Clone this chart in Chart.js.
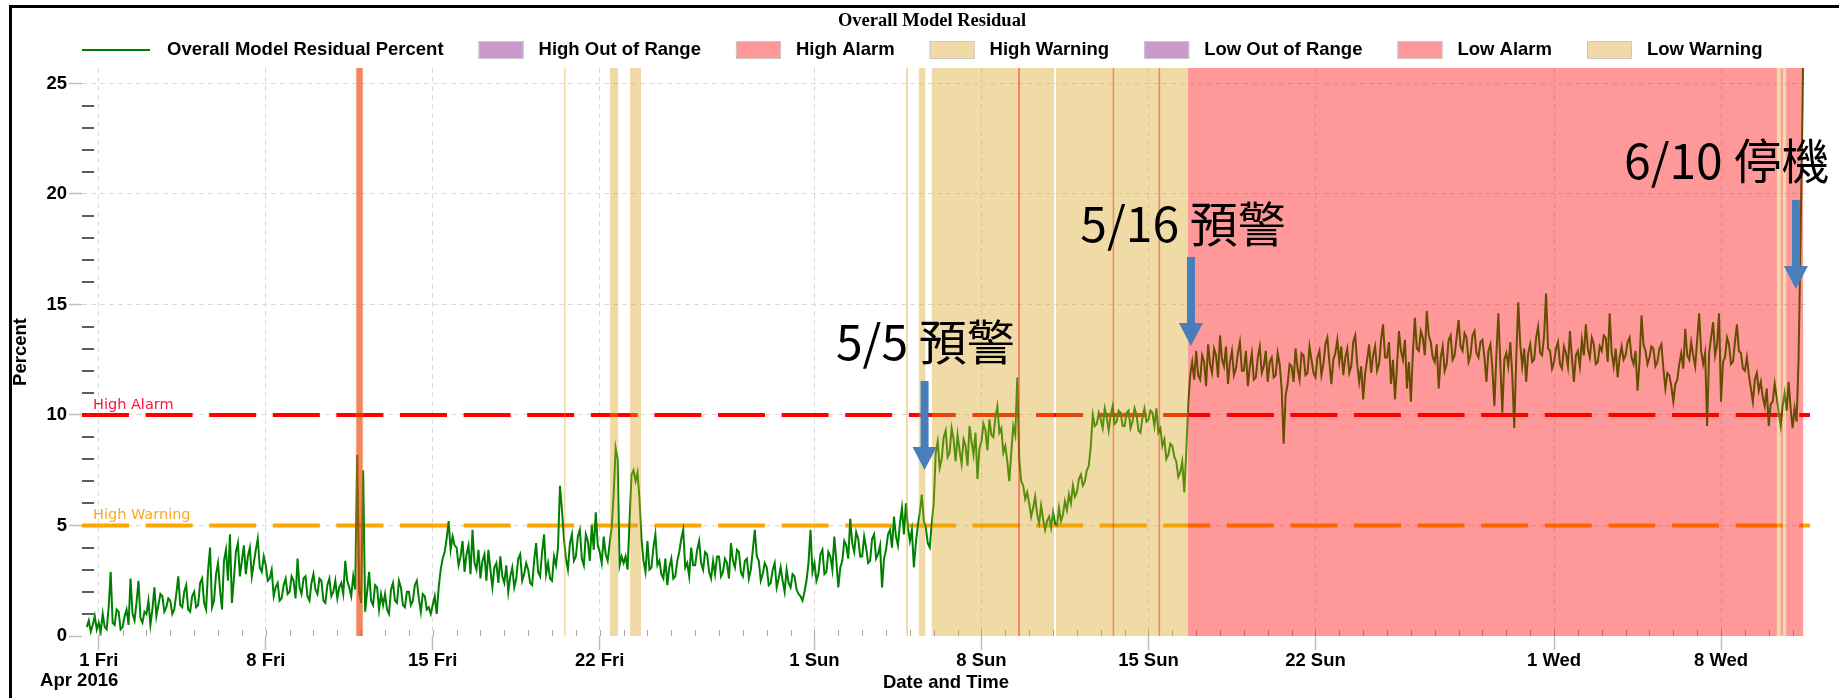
<!DOCTYPE html>
<html>
<head>
<meta charset="utf-8">
<title>Overall Model Residual</title>
<script src="https://cdn.jsdelivr.net/npm/chart.js@4.4.1/dist/chart.umd.min.js"></script>
<style>
  html, body { margin: 0; padding: 0; background: #ffffff; }
  #wrap { position: relative; width: 1839px; height: 698px; }
  canvas { display: block; }
</style>
</head>
<body>
<div id="wrap"><canvas id="chart" width="1839" height="698"></canvas></div>
<script>
// ---- data ---------------------------------------------------------------
// Overall model residual (%), one reading every 2 hours from 2016-03-31 12:00
const sampleStart = '2016-03-31T12:00';
const sampleHours = 2;
const residualPercent = [
  /* Mar 31 */ 0.4, 0.7, 0.2, 0.5, 0.9, 0.3,
  /* Apr 1  */ 0.6, 0.2, 1.0, 0.4, 0.3, 1.3, 2.9, 0.6, 0.5, 1.2, 1.1, 0.3,
  /* Apr 2  */ 0.4, 0.9, 1.2, 0.5, 2.6, 1.0, 0.7, 1.5, 2.5, 0.8, 0.6, 1.1,
  /* Apr 3  */ 1.0, 1.6, 0.5, 1.2, 2.2, 0.9, 1.4, 1.9, 1.8, 1.1, 1.3, 1.7,
  /* Apr 4  */ 1.6, 1.0, 1.2, 1.9, 2.7, 1.4, 1.3, 2.0, 2.3, 1.2, 1.1, 1.8,
  /* Apr 5  */ 2.0, 1.3, 1.4, 2.4, 2.6, 1.5, 1.2, 3.0, 4.0, 1.3, 1.6, 2.8,
  /* Apr 6  */ 3.3, 2.1, 1.2, 3.4, 3.9, 2.5, 4.6, 1.5, 2.6, 3.8, 4.2, 2.7,
  /* Apr 7  */ 3.4, 4.1, 2.8, 3.6, 4.0, 2.7, 3.3, 3.9, 4.4, 3.1, 2.9, 3.6,
  /* Apr 8  */ 3.2, 2.5, 2.6, 3.0, 1.8, 2.2, 2.4, 1.6, 1.7, 2.3, 2.6, 1.9,
  /* Apr 9  */ 2.0, 2.7, 2.5, 1.7, 3.5, 2.2, 1.9, 2.6, 2.7, 1.8, 1.6, 2.4,
  /* Apr 10 */ 2.8, 2.1, 1.9, 2.6, 2.5, 1.6, 1.5, 2.3, 2.6, 1.8, 2.0, 2.5,
  /* Apr 11 */ 1.7, 2.2, 2.4, 1.9, 3.4, 2.5, 2.2, 1.8, 2.7, 2.1, 8.2, 2.0,
  /* Apr 12 */ 1.5, 7.5, 1.1, 2.0, 2.9, 1.6, 1.4, 2.3, 2.2, 1.2, 1.9, 1.4,
  /* Apr 13 */ 1.9, 1.2, 1.0, 2.1, 2.4, 1.6, 1.5, 2.5, 2.2, 1.4, 1.3, 2.0,
  /* Apr 14 */ 2.0, 1.4, 1.6, 2.3, 2.5, 1.7, 1.1, 1.9, 1.8, 1.2, 1.3, 1.0,
  /* Apr 15 */ 1.4, 1.8, 1.0, 2.2, 3.0, 3.5, 3.8, 4.4, 5.2, 3.9, 4.5, 4.1,
  /* Apr 16 */ 4.0, 3.2, 3.6, 4.3, 2.9, 3.7, 4.1, 2.8, 4.8, 3.3, 3.0, 3.9,
  /* Apr 17 */ 2.6, 3.4, 3.7, 2.5, 3.9, 3.0, 2.2, 3.1, 3.3, 2.4, 3.6, 2.7,
  /* Apr 18 */ 2.4, 3.2, 2.0, 2.7, 3.1, 2.2, 2.6, 3.5, 3.7, 2.5, 2.8, 3.3,
  /* Apr 19 */ 3.0, 2.4, 2.3, 3.4, 4.2, 2.9, 2.7, 3.8, 4.6, 2.8, 3.3, 2.6,
  /* Apr 20 */ 2.5, 3.6, 3.2, 4.0, 6.8, 5.7, 4.4, 3.5, 3.0, 4.2, 4.6, 3.4,
  /* Apr 21 */ 3.6, 4.5, 4.8, 3.5, 3.2, 4.6, 4.3, 3.4, 5.0, 3.9, 5.6, 4.1,
  /* Apr 22 */ 3.8, 3.3, 4.5, 3.7, 3.4, 4.2, 4.9, 6.4, 8.5, 8.0, 3.2, 3.6,
  /* Apr 23 */ 3.3, 3.6, 3.0, 5.2, 7.3, 7.5, 7.0, 7.4, 6.2, 4.4, 3.4, 2.9,
  /* Apr 24 */ 4.3, 3.0, 3.1, 4.0, 4.6, 3.2, 3.4, 2.8, 2.6, 3.5, 2.3, 3.1,
  /* Apr 25 */ 3.5, 2.6, 2.7, 3.4, 3.8, 4.4, 4.8, 3.1, 3.3, 2.7, 4.0, 3.2,
  /* Apr 26 */ 3.2, 3.9, 4.3, 3.3, 3.0, 3.8, 3.7, 2.9, 2.6, 3.4, 2.8, 3.6,
  /* Apr 27 */ 3.6, 2.7, 2.9, 3.5, 3.3, 2.6, 4.2, 3.4, 3.1, 3.9, 3.8, 2.9,
  /* Apr 28 */ 2.7, 3.4, 3.5, 2.6, 3.0, 3.9, 4.8, 3.6, 3.4, 2.5, 2.8, 3.3,
  /* Apr 29 */ 3.1, 2.3, 2.4, 3.0, 3.3, 2.2, 2.6, 3.1, 2.5, 2.0, 3.0, 2.4,
  /* Apr 30 */ 2.2, 2.8, 2.7, 2.1, 1.9, 1.8, 1.6, 2.0, 2.5, 3.3, 4.8, 2.9,
  /* May 1  */ 3.3, 2.5, 2.8, 3.7, 3.9, 2.8, 2.9, 3.8, 3.6, 3.0, 4.5, 3.4,
  /* May 2  */ 2.2, 3.1, 3.4, 4.3, 4.1, 3.5, 5.3, 4.2, 3.8, 4.7, 4.4, 3.6,
  /* May 3  */ 3.6, 4.5, 4.0, 3.3, 3.4, 4.4, 4.6, 3.5, 3.7, 4.1, 2.2, 3.5,
  /* May 4  */ 3.9, 4.6, 4.8, 4.0, 5.4, 4.5, 4.1, 5.1, 5.8, 4.6, 6.0, 4.9,
  /* May 5  */ 4.3, 4.8, 3.1, 4.2, 5.0, 5.6, 6.4, 5.2, 4.9, 4.2, 4.0, 5.1,
  /* May 6  */ 6.0, 8.3, 8.8, 7.6, 8.0, 9.0, 9.3, 8.1, 8.3, 9.4, 8.9, 7.9,
  /* May 7  */ 9.1, 8.4, 7.8, 8.9, 8.6, 7.7, 9.5, 8.8, 8.2, 9.2, 7.1, 8.5,
  /* May 8  */ 8.8, 9.6, 9.3, 8.4, 9.8, 9.1, 9.0, 9.9, 10.4, 9.2, 9.4, 8.3,
  /* May 9  */ 8.6, 7.9, 7.0, 8.3, 9.5, 9.1, 11.7, 8.0, 7.0, 6.8, 6.2, 6.5,
  /* May 10 */ 6.0, 5.4, 5.8, 6.3, 5.5, 5.1, 5.9, 5.3, 4.8, 5.2, 5.4, 4.9,
  /* May 11 */ 5.6, 5.1, 5.0, 5.8, 5.2, 5.5, 6.1, 5.7, 6.4, 6.0, 6.8, 6.3,
  /* May 12 */ 6.5, 7.1, 7.3, 6.8, 7.0, 7.5, 7.7, 8.6, 10.0, 9.5, 9.6, 10.1,
  /* May 13 */ 9.8, 9.4, 10.3, 9.9, 9.3, 10.0, 10.4, 9.6, 9.7, 10.2, 10.1, 9.5,
  /* May 14 */ 9.5, 10.1, 10.2, 9.4, 9.7, 10.3, 10.0, 9.3, 9.2, 9.9, 10.3, 9.7,
  /* May 15 */ 9.8, 10.2, 10.1, 9.5, 10.3, 9.2, 9.4, 8.6, 8.9, 8.0, 8.2, 8.7,
  /* May 16 */ 8.6, 8.1, 7.9, 7.2, 7.4, 7.9, 6.5, 8.3, 10.5, 11.8, 12.4, 11.6,
  /* May 17 */ 12.9, 11.8, 11.6, 12.7, 12.4, 11.3, 13.2, 12.3, 11.9, 13.0, 12.7, 11.7,
  /* May 18 */ 13.6, 12.5, 12.2, 13.1, 11.4, 12.4, 12.9, 11.8, 12.1, 12.8, 13.3, 12.0,
  /* May 19 */ 12.0, 12.9, 11.3, 12.2, 12.8, 11.6, 11.7, 12.6, 13.1, 11.9, 12.2, 12.9,
  /* May 20 */ 11.5, 12.4, 12.6, 11.7, 11.8, 12.8, 12.3, 11.2, 8.7, 10.9, 11.4, 12.3,
  /* May 21 */ 12.2, 11.5, 13.0, 12.1, 11.6, 12.8, 12.7, 11.8, 11.9, 13.1, 12.5, 11.9,
  /* May 22 */ 11.7, 12.6, 12.9, 11.8, 12.3, 13.2, 13.5, 12.4, 11.4, 12.5, 12.8, 13.4,
  /* May 23 */ 12.4, 13.1, 11.8, 12.6, 13.0, 11.9, 12.2, 13.3, 13.6, 12.3, 11.5, 12.2,
  /* May 24 */ 10.7, 11.9, 12.5, 13.2, 11.9, 12.7, 13.1, 12.0, 12.3, 13.4, 14.1, 12.6,
  /* May 25 */ 12.6, 13.3, 11.4, 12.5, 10.7, 12.2, 13.8, 12.9, 12.5, 13.4, 11.2, 12.4,
  /* May 26 */ 10.6, 12.8, 14.4, 13.0, 12.9, 13.8, 13.5, 12.7, 14.7, 13.6, 13.3, 12.6,
  /* May 27 */ 12.4, 13.2, 11.2, 12.6, 13.1, 12.0, 12.3, 13.4, 13.6, 12.5, 12.7, 13.5,
  /* May 28 */ 14.3, 13.1, 12.9, 13.7, 13.5, 12.4, 12.7, 13.6, 13.8, 12.8, 12.6, 13.3,
  /* May 29 */ 13.4, 12.6, 11.5, 12.9, 13.2, 12.1, 10.4, 12.7, 14.6, 12.3, 10.1, 12.5,
  /* May 30 */ 12.8, 12.2, 13.3, 11.8, 9.4, 12.6, 15.1, 13.2, 12.2, 13.0, 11.5, 12.8,
  /* May 31 */ 13.2, 12.4, 12.5, 13.5, 14.0, 12.8, 12.7, 13.6, 15.5, 13.0, 12.9, 12.1,
  /* Jun 1  */ 12.4, 13.0, 13.3, 12.3, 12.1, 13.1, 12.8, 12.2, 13.8, 12.6, 11.5, 12.7,
  /* Jun 2  */ 12.9, 12.2, 13.4, 12.7, 14.1, 13.0, 12.6, 13.5, 13.2, 12.3, 12.4, 13.1,
  /* Jun 3  */ 12.9, 13.6, 13.5, 12.4, 14.6, 12.8, 12.2, 13.0, 11.7, 12.6, 13.1, 12.5,
  /* Jun 4  */ 12.7, 13.3, 13.5, 12.6, 12.3, 12.9, 11.1, 12.4, 14.5, 13.2, 12.9, 12.3,
  /* Jun 5  */ 12.6, 13.1, 13.0, 12.2, 12.4, 13.0, 13.2, 12.1, 11.2, 11.9, 11.8, 11.3,
  /* Jun 6  */ 10.6, 11.4, 11.6, 12.3, 12.8, 12.1, 13.9, 12.7, 12.5, 13.3, 12.7, 12.2,
  /* Jun 7  */ 13.4, 14.6, 12.9, 12.3, 12.8, 9.5, 12.8, 13.5, 14.2, 12.7, 13.2, 14.6,
  /* Jun 8  */ 10.6, 12.4, 12.6, 13.5, 13.2, 12.3, 12.4, 13.3, 14.1, 12.9, 12.8, 12.1,
  /* Jun 9  */ 12.0, 12.6, 11.8, 11.2, 10.6, 11.6, 11.9, 11.1, 11.5, 10.8, 10.4, 11.2,
  /* Jun 10 */ 9.5, 10.5, 10.6, 11.4, 10.8, 10.1, 9.5, 10.4, 11.0, 10.2, 11.5, 10.3,
  /* Jun 11 */ 9.4, 10.3, 9.7, 12.5, 18.0, 24.0, 32.0
];

// limits
const highAlarmLimit = 10;
const highWarningLimit = 5;

// time axis
const axisStart = '2016-03-31T07:10';
const axisEnd = '2016-06-11T17:30';
const dayTicks = ['2016-04-01', '2016-04-08', '2016-04-15', '2016-04-22', '2016-05-01',
                  '2016-05-08', '2016-05-15', '2016-05-22', '2016-06-01', '2016-06-08'];
const dayTickLabels = ['1 Fri', '8 Fri', '15 Fri', '22 Fri', '1 Sun',
                       '8 Sun', '15 Sun', '22 Sun', '1 Wed', '8 Wed'];
const periodLabel = 'Apr 2016';
const percentTicks = [0, 5, 10, 15, 20, 25];

// state periods [from, to]
const warningPeriods = [
  ['2016-04-11T18:30', '2016-04-12T02:10'],
  ['2016-04-20T12:05', '2016-04-20T13:35'],
  ['2016-04-22T10:20', '2016-04-22T18:30'],
  ['2016-04-23T06:30', '2016-04-23T17:30'],
  ['2016-05-04T20:10', '2016-05-04T22:05'],
  ['2016-05-05T08:55', '2016-05-05T15:35'],
  ['2016-05-05T22:05', '2016-05-11T01:00'],
  ['2016-05-11T03:00', '2016-05-16T15:50'],
  ['2016-06-10T08:10', '2016-06-10T12:00'],
  ['2016-06-10T14:10', '2016-06-10T17:30']
];
const alarmPeriods = [
  ['2016-04-11T19:20', '2016-04-12T01:20'],
  ['2016-05-09T12:50', '2016-05-09T14:50'],
  ['2016-05-13T12:00', '2016-05-13T13:30'],
  ['2016-05-15T10:10', '2016-05-15T11:45'],
  ['2016-05-16T15:50', '2016-06-10T08:10'],
  ['2016-06-10T12:00', '2016-06-10T14:10'],
  ['2016-06-10T17:30', '2016-06-11T10:35']
];

// event callouts: arrow at a time from tail value down to tip value, caption above
const eventLabels = ['5/5 預警', '5/16 預警', '6/10 停機'];
const eventTimes = ['2016-05-05T14:45', '2016-05-16T18:45', '2016-06-11T03:20'];
const eventArrowTail = [11.54, 17.15, 19.73];
const eventArrowTip = [7.51, 13.12, 15.70];
const eventCaptionTimes = ['2016-05-05T15:35', '2016-05-16T10:50', '2016-06-08T05:45'];
const eventCaptionValues = [13.32, 18.67, 21.52];

// ---- styling --------------------------------------------------------------
const GREEN = '#008000';
const OUT_OF_RANGE = 'rgba(128, 0, 128, 0.4)';
const ALARM = 'rgba(255, 0, 0, 0.4)';
const WARNING = 'rgba(218, 165, 32, 0.4)';
const ARROW = '#4a7ebb';
const SANS = '"Liberation Sans", Arial, sans-serif';
const TICK_FONT = { family: SANS, weight: 'bold', size: 18.5 };

const legendEntries = [
  { label: 'Overall Model Residual Percent', kind: 'line', color: GREEN },
  { label: 'High Out of Range', kind: 'box', color: OUT_OF_RANGE },
  { label: 'High Alarm', kind: 'box', color: ALARM },
  { label: 'High Warning', kind: 'box', color: WARNING },
  { label: 'Low Out of Range', kind: 'box', color: OUT_OF_RANGE },
  { label: 'Low Alarm', kind: 'box', color: ALARM },
  { label: 'Low Warning', kind: 'box', color: WARNING }
];

const HOUR = 3600e3;
const DAY = 24 * HOUR;
const T = s => Date.parse((s.length === 10 ? s + 'T00:00' : s) + 'Z');

const residualPoints = residualPercent.map((v, i) => ({ x: T(sampleStart) + i * sampleHours * HOUR, y: v }));
const limitLine = v => [{ x: T(axisStart), y: v }, { x: T(axisEnd), y: v }];

// ---- drawing helpers ------------------------------------------------------
function drawArrow(ctx, x, yTail, yTip) {
  const shaft = 8, head = 24, headLen = 23;
  const yBase = yTip - headLen;
  ctx.fillStyle = ARROW;
  ctx.fillRect(x - shaft / 2, yTail, shaft, yBase - yTail + 0.5);
  ctx.beginPath();
  ctx.moveTo(x - head / 2, yBase);
  ctx.lineTo(x + head / 2, yBase);
  ctx.lineTo(x, yTip);
  ctx.closePath();
  ctx.fill();
}

function drawLegend(ctx) {
  ctx.save();
  ctx.font = 'bold 18.5px ' + SANS;
  ctx.textBaseline = 'middle';
  ctx.textAlign = 'left';
  const cy = 50;
  let x = 82;
  legendEntries.forEach(e => {
    if (e.kind === 'line') {
      ctx.strokeStyle = e.color;
      ctx.lineWidth = 2;
      ctx.beginPath();
      ctx.moveTo(x, cy);
      ctx.lineTo(x + 68, cy);
      ctx.stroke();
      x += 68 + 17;
    } else {
      ctx.fillStyle = e.color;
      ctx.fillRect(x, cy - 9, 45, 18);
      ctx.strokeStyle = '#c8c8c8';
      ctx.lineWidth = 1;
      ctx.strokeRect(x + 0.5, cy - 8.5, 44, 17);
      x += 45 + 15;
    }
    ctx.fillStyle = '#000';
    ctx.fillText(e.label, x, cy);
    x += ctx.measureText(e.label).width + 35;
  });
  ctx.restore();
}

const decorations = {
  id: 'residualDecorations',
  beforeDatasetsDraw(chart) {
    const { ctx, chartArea: a, scales: { x, y } } = chart;
    ctx.save();
    // daily ticks along the bottom edge
    ctx.strokeStyle = '#a6a6a6';
    ctx.lineWidth = 1;
    const t0 = T(dayTicks[0]);
    for (let t = t0 + Math.ceil((x.min - t0) / DAY) * DAY; t <= x.max; t += DAY) {
      const px = Math.round(x.getPixelForValue(t)) + 0.5;
      ctx.beginPath();
      ctx.moveTo(px, a.bottom);
      ctx.lineTo(px, a.bottom - 6);
      ctx.stroke();
    }
    // unit ticks on the left edge
    ctx.strokeStyle = '#5c5c5c';
    ctx.lineWidth = 2;
    for (let v = 1; v < y.max; v++) {
      if (v % 5 === 0) continue;
      const py = Math.round(y.getPixelForValue(v));
      ctx.beginPath();
      ctx.moveTo(a.left, py);
      ctx.lineTo(a.left + 12, py);
      ctx.stroke();
    }
    ctx.restore();
  },
  afterDatasetsDraw(chart) {
    const { ctx, chartArea: a, scales: { x, y } } = chart;
    ctx.save();
    // limit captions
    ctx.font = '14.5px "DejaVu Sans", Verdana, sans-serif';
    ctx.textAlign = 'left';
    ctx.textBaseline = 'alphabetic';
    ctx.fillStyle = 'rgb(255, 20, 60)';
    ctx.fillText('High Alarm', a.left + 11, y.getPixelForValue(highAlarmLimit) - 6);
    ctx.fillStyle = 'rgb(255, 165, 30)';
    ctx.fillText('High Warning', a.left + 11, y.getPixelForValue(highWarningLimit) - 6);
    // state shading over the trend
    ctx.beginPath();
    ctx.rect(a.left, a.top, a.right - a.left, a.bottom - a.top);
    ctx.clip();
    const shade = (periods, color) => {
      ctx.fillStyle = color;
      periods.forEach(([from, to]) => {
        const x1 = x.getPixelForValue(T(from));
        const x2 = x.getPixelForValue(T(to));
        ctx.fillRect(x1, a.top, x2 - x1, a.bottom - a.top);
      });
    };
    shade(warningPeriods, WARNING);
    shade(alarmPeriods, ALARM);
    ctx.restore();
  },
  afterDraw(chart) {
    const { ctx, scales: { x, y } } = chart;
    ctx.save();
    // event arrows and captions
    eventLabels.forEach((label, i) => {
      const px = x.getPixelForValue(T(eventTimes[i]));
      drawArrow(ctx, px, y.getPixelForValue(eventArrowTail[i]), y.getPixelForValue(eventArrowTip[i]));
      ctx.font = '48px "Noto Sans CJK TC", "Noto Sans CJK SC", sans-serif';
      ctx.fillStyle = '#000';
      ctx.textAlign = 'center';
      ctx.textBaseline = 'middle';
      ctx.fillText(label, x.getPixelForValue(T(eventCaptionTimes[i])), y.getPixelForValue(eventCaptionValues[i]));
    });
    // chart title
    ctx.font = 'bold 18.5px "Liberation Serif", "Times New Roman", serif';
    ctx.fillStyle = '#000';
    ctx.textAlign = 'center';
    ctx.textBaseline = 'middle';
    ctx.fillText('Overall Model Residual', 932, 21);
    // month/year line, right-aligned with the first day label
    ctx.font = 'bold 18.5px ' + SANS;
    const firstRight = x.getPixelForValue(T(dayTicks[0])) + ctx.measureText(dayTickLabels[0]).width / 2;
    ctx.textAlign = 'right';
    ctx.fillText(periodLabel, firstRight, 681);
    ctx.restore();
    drawLegend(ctx);
    // window frame
    ctx.save();
    ctx.fillStyle = '#000';
    ctx.fillRect(9, 5, chart.width - 9, 3);
    ctx.fillRect(9, 5, 3, chart.height - 5);
    ctx.restore();
  }
};

// ---- chart ------------------------------------------------------------------
Chart.defaults.font.family = SANS;

new Chart(document.getElementById('chart'), {
  type: 'line',
  data: {
    datasets: [
      {
        label: 'Overall Model Residual Percent',
        data: residualPoints,
        borderColor: GREEN,
        borderWidth: 2,
        pointRadius: 0,
        tension: 0
      },
      {
        label: 'High Alarm',
        data: limitLine(highAlarmLimit),
        borderColor: '#ff0000',
        borderWidth: 4,
        borderDash: [47, 16.6],
        borderCapStyle: 'butt',
        pointRadius: 0
      },
      {
        label: 'High Warning',
        data: limitLine(highWarningLimit),
        borderColor: '#ffa500',
        borderWidth: 4,
        borderDash: [47, 16.6],
        borderCapStyle: 'butt',
        pointRadius: 0
      }
    ]
  },
  options: {
    responsive: false,
    animation: false,
    devicePixelRatio: 1,
    events: [],
    layout: { padding: { top: 68, right: 29, bottom: 0, left: 0 } },
    plugins: {
      legend: { display: false },
      title: { display: false },
      tooltip: { enabled: false }
    },
    scales: {
      x: {
        type: 'linear',
        min: T(axisStart),
        max: T(axisEnd),
        afterBuildTicks: s => { s.ticks = dayTicks.map(d => ({ value: T(d) })); },
        afterFit: s => { s.height = 62; },
        ticks: {
          autoSkip: false,
          maxRotation: 0,
          padding: 0,
          color: '#000',
          font: TICK_FONT,
          callback: (value, index) => dayTickLabels[index]
        },
        grid: {
          color: '#dadada',
          lineWidth: 1,
          tickLength: 14,
          tickColor: '#bdbdbd',
          tickWidth: 1.5
        },
        border: { display: false, dash: [5, 4] },
        title: {
          display: true,
          text: 'Date and Time',
          color: '#000',
          font: TICK_FONT,
          padding: { top: 0, bottom: 4 }
        }
      },
      y: {
        type: 'linear',
        min: 0,
        max: 25.7,
        afterBuildTicks: s => { s.ticks = percentTicks.map(v => ({ value: v })); },
        afterFit: s => { s.width = 82; },
        ticks: {
          padding: 2,
          color: '#000',
          font: TICK_FONT
        },
        grid: {
          color: c => (c.tick && c.tick.value === 0 ? 'rgba(0,0,0,0)' : '#dadada'),
          lineWidth: 1,
          tickLength: 13,
          tickColor: '#bdbdbd',
          tickWidth: 1.5
        },
        border: { display: false, dash: [5, 4] },
        title: {
          display: true,
          text: 'Percent',
          color: '#000',
          font: TICK_FONT,
          padding: { top: 10, bottom: 0 }
        }
      }
    }
  },
  plugins: [decorations]
});
</script>
</body>
</html>
